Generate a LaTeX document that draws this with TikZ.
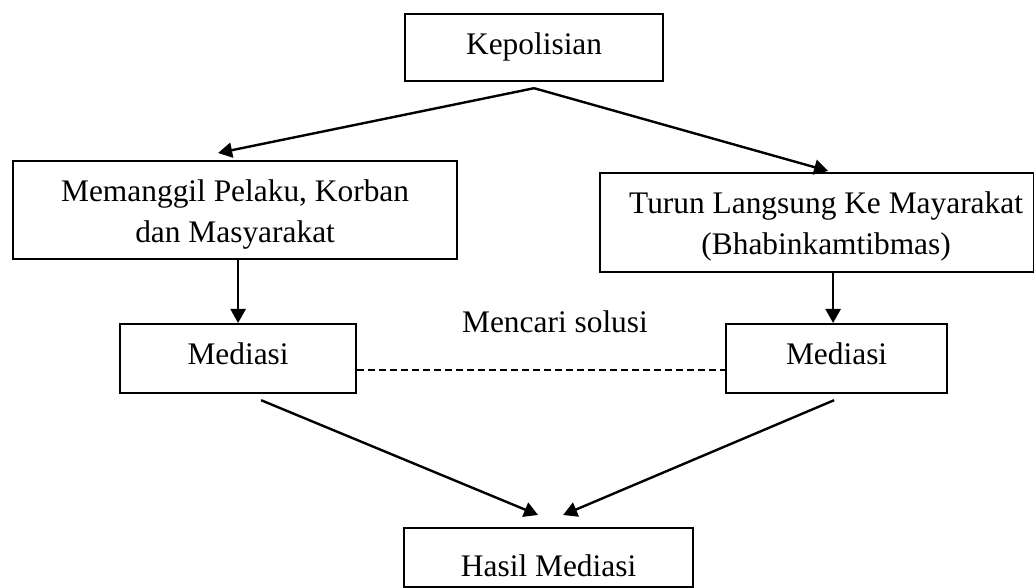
\documentclass[tikz,border=0pt]{standalone}
\usepackage{fontspec}
\setmainfont{Liberation Serif}
\usetikzlibrary{arrows.meta}
\begin{document}
\begin{tikzpicture}[x=0.5pt,y=-0.5pt,
  every node/.style={font=\fontsize{15.7pt}{20.5pt}\selectfont},
  box/.style={draw, line width=1.1pt, inner sep=0pt, anchor=north west, text height=20pt},
  arr/.style={line width=1.2pt, -{Triangle[length=7pt,width=7.5pt]}},
  link/.style={line width=0.7pt, dash pattern=on 3.5pt off 2pt}]
\clip (0,0) rectangle (1034,588);

% boxes
\node[box, minimum width=129pt, text depth=13.5pt] (kep) at (404,13) {Kepolisian};
\node[box, minimum width=222pt, text depth=29pt] (panggil) at (12,160)
  {\begin{tabular}[t]{@{}c@{}}Memanggil Pelaku, Korban\\ dan Masyarakat\end{tabular}};
\node[box, minimum width=217pt, text depth=29.5pt] (turun) at (599,172)
  {\hspace*{9pt}\begin{tabular}[t]{@{}c@{}}Turun Langsung Ke Mayarakat\\ (Bhabinkamtibmas)\end{tabular}};
\node[box, minimum width=118pt, text depth=14.5pt] (med1) at (119,323) {Mediasi};
\node[box, minimum width=110.5pt, text depth=14.5pt] (med2) at (725,323) {Mediasi};
\node[box, minimum width=144.5pt, text height=24pt, text depth=5.5pt] (hasil) at (403,527) {Hasil Mediasi};
\node[anchor=base] (solusi) at (555,333) {Mencari solusi};

% connectors
\draw[arr] ([yshift=-3pt]kep.south) -- ([xshift=-8.5pt,yshift=3.5pt]panggil.north);
\draw[arr] ([yshift=-3pt]kep.south) -- ([xshift=5.5pt,yshift=0.5pt]turun.north);
\draw[arr] (med1.north |- panggil.south) -- (med1.north);
\draw[arr] ([xshift=-1.75pt]med2.north |- turun.south) -- ([xshift=-1.75pt]med2.north);
\draw[link] ([yshift=-5.75pt]med1.east) -- ([yshift=-5.75pt]med2.west);
\draw[arr] ([xshift=11.5pt,yshift=-3pt]med1.south) -- ([xshift=-5.25pt,yshift=6pt]hasil.north);
\draw[arr] ([xshift=-1.25pt,yshift=-3pt]med2.south) -- ([xshift=7.25pt,yshift=6pt]hasil.north);
\end{tikzpicture}
\end{document}
